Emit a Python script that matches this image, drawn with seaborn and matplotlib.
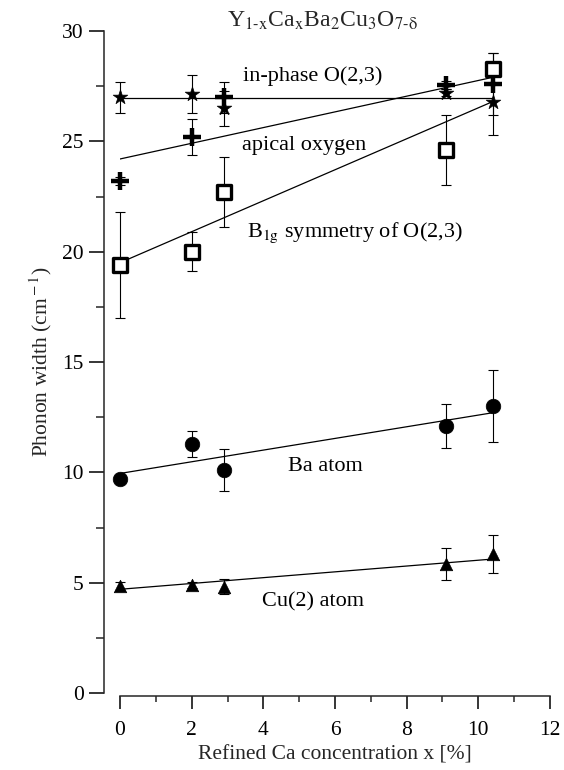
import numpy as np
import pandas as pd
import matplotlib
matplotlib.use("Agg")
import matplotlib.pyplot as plt
from matplotlib.ticker import MultipleLocator
import seaborn as sns

# Ca concentration of the samples (%)
ca_x = [0.0, 2.0, 2.9, 9.1, 10.4]

# Phonon widths (cm^-1) and their uncertainties
inphase_w = [27.0, 27.15, 26.5, 27.2, 26.8]
inphase_err = [0.7, 0.85, 0.8, 0.15, 1.5]

apical_w = [23.2, 25.2, 27.0, 27.55, 27.6]
apical_err = [0.2, 0.8, 0.7, 0.2, 1.4]

b1g_w = [19.4, 20.0, 22.7, 24.6, 28.3]
b1g_err = [2.4, 0.87, 1.6, 1.6, 0.7]

ba_w = [9.7, 11.28, 10.1, 12.11, 13.0]
ba_err = [0.0, 0.6, 0.95, 1.0, 1.63]

cu_w = [4.85, 4.9, 4.82, 5.85, 6.3]
cu_err = [0.2, 0.15, 0.35, 0.74, 0.86]

# Linear trend lines: value at the first and at the last concentration
fit_x = [0.0, 10.4]
inphase_fit = [26.95, 26.95]
apical_fit = [24.2, 27.9]
b1g_fit = [19.5, 26.8]
ba_fit = [9.95, 12.7]
cu_fit = [4.7, 6.07]

sns.set_theme(style="ticks")
plt.rcParams["font.family"] = ["Liberation Serif", "DejaVu Serif"]
plt.rcParams["mathtext.fontset"] = "stix"
plt.rcParams["axes.linewidth"] = 1.1

fig = plt.figure(figsize=(5.64, 7.70), dpi=100)
ax = fig.add_axes([120 / 564, 77 / 770, 430 / 564, 662 / 770])

series = [
    ("in-phase", inphase_w, inphase_err, inphase_fit, "*", 11, "black", 0.5),
    ("apical", apical_w, apical_err, apical_fit, "+", 13, "black", 3.2),
    ("b1g", b1g_w, b1g_err, b1g_fit, "s", 10, "white", 2.4),
    ("ba", ba_w, ba_err, ba_fit, "o", 10.5, "black", 0.5),
    ("cu", cu_w, cu_err, cu_fit, "^", 9, "black", 0.5),
]

for name, w, err, fit, marker, ms, face, mew in series:
    fit_df = pd.DataFrame({"x": fit_x, "y": fit})
    sns.lineplot(data=fit_df, x="x", y="y", ax=ax, color="black",
                 linewidth=0.9, zorder=2)
    eb = ax.errorbar(ca_x, w, yerr=err, fmt="none", ecolor="black",
                     elinewidth=0.8, capsize=3.6, capthick=0.8, zorder=3)
    for artist in eb.lines[1] + eb.lines[2]:
        artist.set_clip_on(False)
    pts = pd.DataFrame({"x": ca_x, "y": w})
    sns.scatterplot(data=pts, x="x", y="y", ax=ax, marker=marker,
                    s=ms ** 2, color=face, edgecolor="black",
                    linewidth=mew, zorder=4, clip_on=False)

# Series annotations
txt = dict(fontsize=16, ha="left", va="baseline", color="black")
ax.text(3.43, 27.73, "in-phase O(2,3)", **txt)
ax.text(3.40, 24.6, "apical oxygen", **txt)
ax.text(3.54, 20.66, r"B$_{\rm 1g}$ symmetry of O(2,3)", **txt)
ax.text(4.70, 10.06, "Ba atom", **txt)
ax.text(3.95, 3.94, "Cu(2) atom", **txt)

fig.text(0.402, 0.9654,
         r"Y$_{\rm 1\text{-}x}$Ca$_{\rm x}$Ba$_{\rm 2}$Cu$_{\rm 3}$O$_{\rm 7\text{-}\delta}$",
         fontsize=17, ha="left", va="baseline")

ax.set_xlim(0, 12)
ax.set_ylim(0, 30)
ax.xaxis.set_major_locator(MultipleLocator(2))
ax.xaxis.set_minor_locator(MultipleLocator(1))
ax.yaxis.set_major_locator(MultipleLocator(5))
ax.yaxis.set_minor_locator(MultipleLocator(2.5))

sns.despine(ax=ax)
ax.spines["left"].set_position(("outward", 11.5))
ax.spines["bottom"].set_position(("outward", 2.5))
ax.tick_params(axis="both", which="major", labelsize=15.5, width=1.1,
               color="black", labelcolor="black")
ax.tick_params(axis="y", which="major", length=11)
ax.tick_params(axis="y", which="minor", length=5.5, width=1.1)
ax.tick_params(axis="x", which="major", length=9.5, pad=8)
ax.tick_params(axis="x", which="minor", length=4.5, width=1.1)

ax.set_xlabel("Refined Ca concentration x [%]", fontsize=15.5, labelpad=4)
ax.set_ylabel(r"Phonon width (cm$^{\rm -1}$)", fontsize=15.5, labelpad=6)

fig.savefig("out.png", dpi=100)
